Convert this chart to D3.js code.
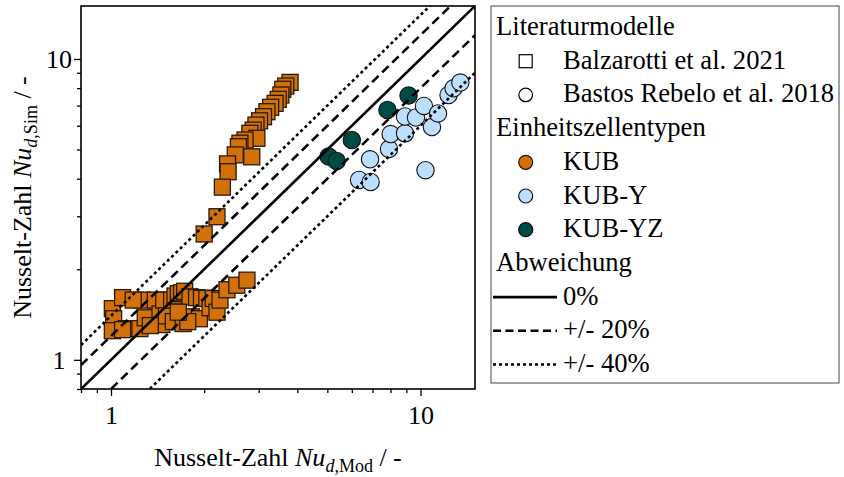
<!DOCTYPE html>
<html>
<head>
<meta charset="utf-8">
<script src="https://cdn.jsdelivr.net/npm/d3@7"></script>
<style>
  html, body { margin: 0; padding: 0; background: #fff; }
  svg { display: block; }
  svg text { font-family: "Liberation Serif", "Times New Roman", Times, Tinos, "DejaVu Serif", "Noto Serif", serif; }
</style>
</head>
<body>
<svg id="chart" width="844" height="477"></svg>
<script>
// KUB (Balzarotti et al. 2021) – model vs. simulated Nusselt number
const kubNuMod = [3.79, 3.67, 3.59, 3.54, 3.47, 3.39, 3.28, 3.19, 3.11, 3.02, 2.94, 2.88, 2.81, 2.96, 2.71, 2.61, 2.58, 2.52, 2.85, 2.38, 2.39, 2.29, 2.20, 2.00,
  1.01, 1.02, 1.01, 1.09, 1.12, 1.24, 1.26, 1.29, 1.39, 1.46, 1.44, 1.48, 1.51, 1.57, 1.59, 1.61, 1.65, 1.69, 1.73, 1.71,
  1.80, 1.82, 1.89, 1.93, 1.96, 2.04, 2.09, 2.14, 2.20, 2.25, 2.37, 2.55, 2.75, 1.34, 1.77, 1.65, 1.18, 1.09];
const kubNuSim = [8.36, 8.13, 7.93, 7.59, 7.34, 7.12, 6.91, 6.68, 6.43, 6.23, 6.03, 5.80, 5.66, 5.45, 5.38, 5.25, 5.11, 4.80, 4.73, 4.48, 4.22, 3.75, 2.99, 2.62,
  1.48, 1.37, 1.25, 1.61, 1.27, 1.27, 1.58, 1.38, 1.58, 1.31, 1.42, 1.58, 1.40, 1.58, 1.34, 1.63, 1.66, 1.67, 1.69, 1.32,
  1.62, 1.39, 1.61, 1.37, 1.60, 1.60, 1.49, 1.60, 1.44, 1.58, 1.71, 1.77, 1.84, 1.30, 1.34, 1.44, 1.58, 1.26];

// KUB-Y (Bastos Rebelo et al. 2018)
const kubyNuMod = [6.33, 6.90, 6.87, 7.91, 8.01, 8.91, 8.91, 9.67, 10.26, 10.89, 11.39, 10.38, 12.32, 12.79, 13.45];
const kubyNuSim = [3.96, 3.90, 4.64, 5.02, 5.63, 5.66, 6.44, 6.39, 6.98, 5.94, 6.59, 4.27, 7.59, 7.99, 8.35];

// KUB-YZ (Bastos Rebelo et al. 2018)
const kubyzNuMod = [5.05, 5.36, 6.00, 7.82, 9.15];
const kubyzNuSim = [4.74, 4.58, 5.38, 6.77, 7.56];

// deviation bands: factor applied to Nu_Mod
const bandFactors = [1.0, 1.2, 0.8, 1.4, 0.6];
const bandLabels = ["0%", "+/- 20%", "+/- 40%"];

const axisDomain = [0.8, 15];
const majorTicks = [1, 10];
const minorTicks = [0.8, 0.9, 2, 3, 4, 5, 6, 7, 8, 9];

const colKUB = "#d2700a", colKUBY = "#bddfff", colKUBYZ = "#004a45";

const svg = d3.select("#chart");
const L = 81, R = 475, T = 6, B = 389;
const x = d3.scaleLog().domain(axisDomain).range([L, R]);
const y = d3.scaleLog().domain(axisDomain).range([B, T]);

svg.append("defs").append("clipPath").attr("id", "plotClip")
  .append("rect").attr("x", L).attr("y", T).attr("width", R - L).attr("height", B - T);

const plot = svg.append("g").attr("clip-path", "url(#plotClip)");

// markers: KUB squares
const sq = 16;
plot.append("g").selectAll("rect").data(d3.range(kubNuMod.length)).join("rect")
  .attr("x", i => x(kubNuMod[i]) - sq / 2)
  .attr("y", i => y(kubNuSim[i]) - sq / 2)
  .attr("width", sq).attr("height", sq)
  .attr("fill", colKUB).attr("stroke", "#2b1a08").attr("stroke-width", 1.3);

// KUB-YZ circles
plot.append("g").selectAll("circle").data(d3.range(kubyzNuMod.length)).join("circle")
  .attr("cx", i => x(kubyzNuMod[i])).attr("cy", i => y(kubyzNuSim[i])).attr("r", 8.7)
  .attr("fill", colKUBYZ).attr("stroke", "#111").attr("stroke-width", 1.1);

// KUB-Y circles
plot.append("g").selectAll("circle").data(d3.range(kubyNuMod.length)).join("circle")
  .attr("cx", i => x(kubyNuMod[i])).attr("cy", i => y(kubyNuSim[i])).attr("r", 8.7)
  .attr("fill", colKUBY).attr("stroke", "#111").attr("stroke-width", 1.1);

// deviation lines
const dashFor = f => f === 1 ? null : (Math.abs(f - 1) < 0.3 ? "9,5" : "3,3");
plot.append("g").selectAll("line").data(bandFactors).join("line")
  .attr("x1", x(axisDomain[0])).attr("y1", f => y(axisDomain[0] * f))
  .attr("x2", x(axisDomain[1])).attr("y2", f => y(axisDomain[1] * f))
  .attr("stroke", "#000").attr("stroke-width", 2.6)
  .attr("stroke-dasharray", dashFor);

// axes
const fontSize = 26;
function styleAxis(g) {
  g.select(".domain").remove();
  g.selectAll("line").attr("stroke", "#000").attr("stroke-width", 1.3);
  g.selectAll("text").attr("fill", "#000").attr("font-size", fontSize);
  g.attr("font-family", null);
}
svg.append("g").attr("transform", `translate(0,${B})`)
  .call(d3.axisBottom(x).tickValues(minorTicks).tickSize(4).tickFormat(""))
  .call(styleAxis);
svg.append("g").attr("transform", `translate(0,${B})`)
  .call(d3.axisBottom(x).tickValues(majorTicks).tickSize(7).tickPadding(10).tickFormat(d3.format("d")))
  .call(styleAxis);
svg.append("g").attr("transform", `translate(${L},0)`)
  .call(d3.axisLeft(y).tickValues(minorTicks).tickSize(4).tickFormat(""))
  .call(styleAxis);
const yMaj = svg.append("g").attr("transform", `translate(${L},0)`)
  .call(d3.axisLeft(y).tickValues(majorTicks).tickSize(7).tickFormat(d3.format("d")))
  .call(styleAxis);
yMaj.selectAll("text").attr("text-anchor", "middle").attr("x", 59 - L);

// frame
svg.append("rect").attr("x", L).attr("y", T).attr("width", R - L).attr("height", B - T)
  .attr("fill", "none").attr("stroke", "#000").attr("stroke-width", 1.6);

// axis titles
function title(sel, sub) {
  sel.append("tspan").text("Nusselt-Zahl ");
  sel.append("tspan").attr("font-style", "italic").text("Nu");
  sel.append("tspan").attr("font-size", 18).attr("dy", 6).attr("font-style", "italic").text("d");
  sel.append("tspan").attr("font-size", 18).text("," + sub);
  sel.append("tspan").attr("dy", -6).text(" / -");
}
svg.append("text").attr("x", (L + R) / 2).attr("y", 466).attr("text-anchor", "middle")
  .attr("font-size", fontSize).call(title, "Mod");
svg.append("text").attr("transform", `translate(31,${(T + B) / 2}) rotate(-90)`)
  .attr("text-anchor", "middle").attr("font-size", fontSize).call(title, "Sim");

// legend
const legendFont = 26.6;
const lg = svg.append("g");
lg.append("rect").attr("x", 491).attr("y", 6).attr("width", 348).attr("height", 377)
  .attr("fill", "#fff").attr("stroke", "#444").attr("stroke-width", 1);
const rowY = i => 35 + 33.7 * i;
const headX = 496, itemX = 563, markX = 525.7;
const txt = (i, xx, s) => lg.append("text").attr("x", xx).attr("y", rowY(i))
  .attr("font-size", legendFont).attr("fill", "#000").text(s);

txt(0, headX, "Literaturmodelle");
lg.append("rect").attr("x", markX - 6.5).attr("y", rowY(1) - 7.5 - 6.5).attr("width", 13).attr("height", 13)
  .attr("fill", "#fff").attr("stroke", "#000").attr("stroke-width", 1.2);
txt(1, itemX, "Balzarotti et al. 2021");
lg.append("circle").attr("cx", markX).attr("cy", rowY(2) - 7.5).attr("r", 6.8)
  .attr("fill", "#fff").attr("stroke", "#000").attr("stroke-width", 1.2);
txt(2, itemX, "Bastos Rebelo et al. 2018");
txt(3, headX, "Einheitszellentypen");
[["KUB", colKUB], ["KUB-Y", colKUBY], ["KUB-YZ", colKUBYZ]].forEach(([name, c], k) => {
  lg.append("circle").attr("cx", markX).attr("cy", rowY(4 + k) - 7.5).attr("r", 7)
    .attr("fill", c).attr("stroke", "#111").attr("stroke-width", 1.2);
  txt(4 + k, itemX, name);
});
txt(7, headX, "Abweichung");
[null, "8,4.5", "3,3"].forEach((dash, k) => {
  lg.append("line").attr("x1", 493).attr("x2", 557)
    .attr("y1", rowY(8 + k) - 7.5).attr("y2", rowY(8 + k) - 7.5)
    .attr("stroke", "#000").attr("stroke-width", 2.6).attr("stroke-dasharray", dash);
  txt(8 + k, itemX, bandLabels[k]);
});
</script>
</body>
</html>
